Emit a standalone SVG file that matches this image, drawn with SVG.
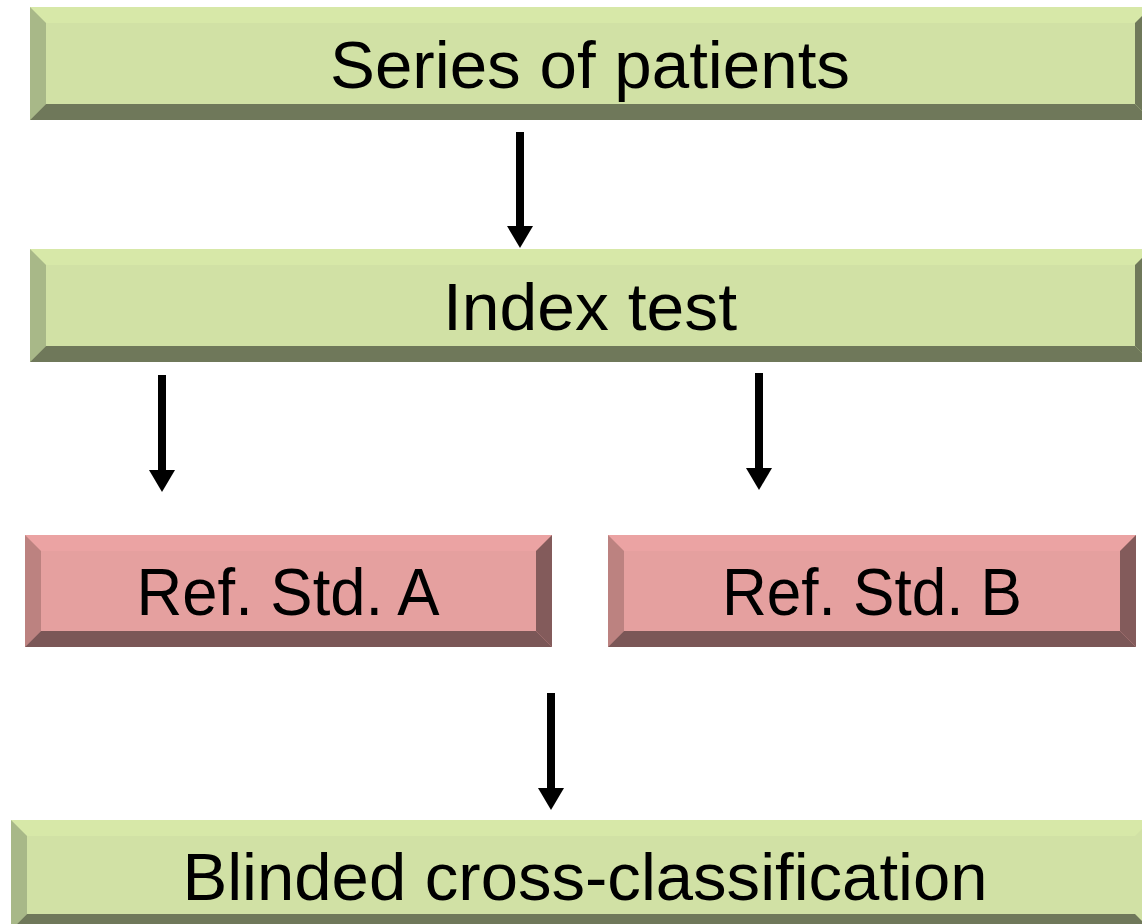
<svg xmlns="http://www.w3.org/2000/svg" width="1142" height="924" viewBox="0 0 1142 924">
<style>
.gface{fill:#d1e1a5}.gtop{fill:#d7e8a8}.gleft{fill:#a8b888}.gbot{fill:#6f785a}.gright{fill:#6f785a}
.rface{fill:#e5a09f}.rtop{fill:#eba3a3}.rleft{fill:#bc8280}.rbot{fill:#7b5757}.rright{fill:#835b5b}
.lbl{font-family:"Liberation Sans",Arial,sans-serif;font-size:66px;fill:#000;text-anchor:middle}
.conn{stroke:#000;stroke-width:8;fill:none}
</style>
<defs>
<marker id="ah" viewBox="0 0 22 26" refX="0" refY="13" markerWidth="22" markerHeight="26" markerUnits="userSpaceOnUse" orient="auto">
<path d="M0,0 L22,13 L0,26 z" fill="#000"/>
</marker>
</defs>
<rect width="1142" height="924" fill="#fff"/>
<g id="node-series">
<rect class="gface" x="30" y="7" width="1121" height="113"/>
<polygon class="gtop" points="30,7 1151,7 1135,23 46,23"/>
<polygon class="gleft" points="30,7 46,23 46,104 30,120"/>
<polygon class="gbot" points="30,120 46,104 1135,104 1151,120"/>
<polygon class="gright" points="1151,7 1135,23 1135,104 1151,120"/>
<text class="lbl" x="590" y="88" textLength="520" lengthAdjust="spacingAndGlyphs">Series of patients</text>
</g>
<g id="node-index">
<rect class="gface" x="30" y="249" width="1121" height="113"/>
<polygon class="gtop" points="30,249 1151,249 1135,265 46,265"/>
<polygon class="gleft" points="30,249 46,265 46,346 30,362"/>
<polygon class="gbot" points="30,362 46,346 1135,346 1151,362"/>
<polygon class="gright" points="1151,249 1135,265 1135,346 1151,362"/>
<text class="lbl" x="590" y="330" textLength="294" lengthAdjust="spacingAndGlyphs">Index test</text>
</g>
<g id="node-refA">
<rect class="rface" x="25" y="535" width="527" height="112"/>
<polygon class="rtop" points="25,535 552,535 536,551 41,551"/>
<polygon class="rleft" points="25,535 41,551 41,631 25,647"/>
<polygon class="rbot" points="25,647 41,631 536,631 552,647"/>
<polygon class="rright" points="552,535 536,551 536,631 552,647"/>
<text class="lbl" x="288" y="615" textLength="303" lengthAdjust="spacingAndGlyphs">Ref. Std. A</text>
</g>
<g id="node-refB">
<rect class="rface" x="608" y="535" width="528" height="112"/>
<polygon class="rtop" points="608,535 1136,535 1120,551 624,551"/>
<polygon class="rleft" points="608,535 624,551 624,631 608,647"/>
<polygon class="rbot" points="608,647 624,631 1120,631 1136,647"/>
<polygon class="rright" points="1136,535 1120,551 1120,631 1136,647"/>
<text class="lbl" x="872" y="615" textLength="300" lengthAdjust="spacingAndGlyphs">Ref. Std. B</text>
</g>
<g id="node-blinded">
<rect class="gface" x="11" y="820" width="1140" height="110"/>
<polygon class="gtop" points="11,820 1151,820 1135,836 27,836"/>
<polygon class="gleft" points="11,820 27,836 27,914 11,930"/>
<polygon class="gbot" points="11,930 27,914 1135,914 1151,930"/>
<text class="lbl" x="585" y="900" textLength="805" lengthAdjust="spacingAndGlyphs">Blinded cross-classification</text>
</g>
<g id="connectors">
<line class="conn" x1="520" y1="132" x2="520" y2="226" marker-end="url(#ah)"/>
<line class="conn" x1="162" y1="375" x2="162" y2="470" marker-end="url(#ah)"/>
<line class="conn" x1="759" y1="373" x2="759" y2="468" marker-end="url(#ah)"/>
<line class="conn" x1="551" y1="693" x2="551" y2="788" marker-end="url(#ah)"/>
</g>
</svg>
